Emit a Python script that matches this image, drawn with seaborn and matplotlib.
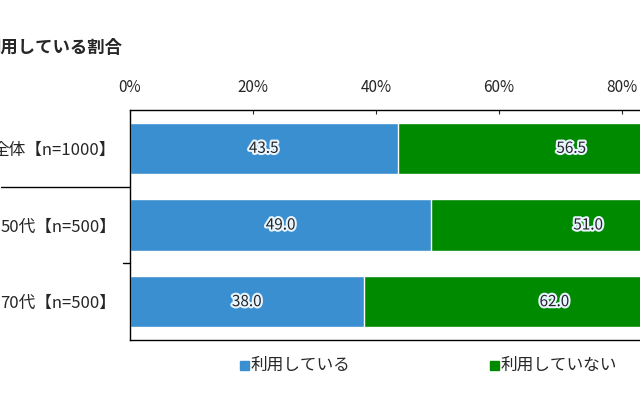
import matplotlib
matplotlib.use('Agg')
import matplotlib.pyplot as plt
import matplotlib.patheffects as pe
import seaborn as sns
import pandas as pd

groups = ['全体【n=1000】', '50代【n=500】', '70代【n=500】']
used = [43.5, 49.0, 38.0]
not_used = [56.5, 51.0, 62.0]
ticks = [0, 20, 40, 60, 80, 100]

BLUE = '#3a8fd0'
GREEN = '#008a00'

sns.set_style('white')
plt.rcParams['font.family'] = ['Noto Sans CJK JP', 'DejaVu Sans']

df = pd.DataFrame({'group': groups, 'used': used, 'not_used': not_used})
df['total'] = df.used + df.not_used

fig = plt.figure(figsize=(6.4, 4), dpi=100)
ax = fig.add_axes([130 / 640, 60 / 400, 615 / 640, 230 / 400])

sns.barplot(data=df, y='group', x='total', color=GREEN, width=0.67, ax=ax, saturation=1)
sns.barplot(data=df, y='group', x='used', color=BLUE, width=0.67, ax=ax, saturation=1)

glow = [pe.withStroke(linewidth=3, foreground='#e8f4ff')]
for i, row in df.iterrows():
    ax.text(row.used / 2, i, f'{row.used:.1f}', ha='center', va='center', fontsize=11, path_effects=glow)
    ax.text(row.used + row.not_used / 2, i, f'{row.not_used:.1f}', ha='center', va='center',
            fontsize=11, path_effects=glow)

ax.set_xlim(0, 100)
ax.set_ylim(2.5, -0.5)
ax.xaxis.tick_top()
ax.set_xticks(ticks)
ax.set_xticklabels([f'{t}%' for t in ticks], fontsize=11)
ax.tick_params(axis='x', length=3, direction='in', pad=10)
ax.tick_params(axis='y', length=0, labelsize=12, pad=10)
ax.set_xlabel('')
ax.set_ylabel('')
for s in ax.spines.values():
    s.set_color('black')
    s.set_linewidth(1)

ax.plot([-21, 0.0], [0.5, 0.5], color='black', lw=1, clip_on=False)
ax.plot([-1.2, 0], [1.5, 1.5], color='black', lw=1, clip_on=False)

fig.text(-16 / 640, 1 - 48 / 400, '利用している割合', fontsize=12.5, fontweight='bold', va='center')

fig.patches.append(plt.Rectangle((240 / 640, 1 - 370 / 400), 9 / 640, 9 / 400, color=BLUE,
                                 transform=fig.transFigure))
fig.text(251 / 640, 1 - 365 / 400, '利用している', fontsize=12, va='center')
fig.patches.append(plt.Rectangle((490 / 640, 1 - 370 / 400), 9 / 640, 9 / 400, color=GREEN,
                                 transform=fig.transFigure))
fig.text(501 / 640, 1 - 365 / 400, '利用していない', fontsize=12, va='center')

fig.savefig('out.png', dpi=100)
